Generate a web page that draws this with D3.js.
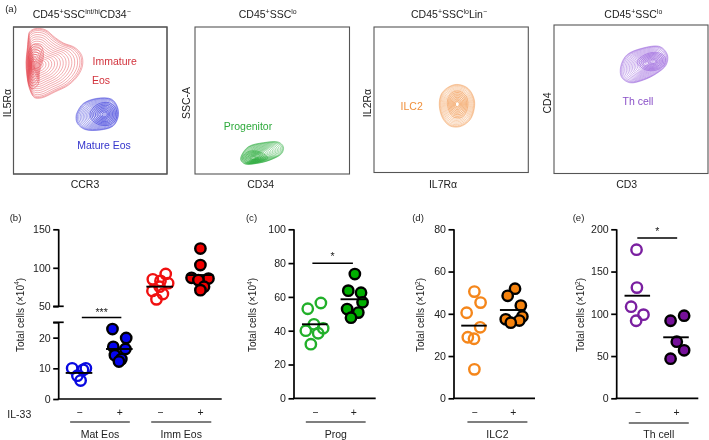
<!DOCTYPE html>
<html><head><meta charset="utf-8">
<script src="https://cdn.jsdelivr.net/npm/d3@7"></script>
<style>
html,body{margin:0;padding:0;background:#fff}
svg{display:block;filter:blur(.3px)}
text{font-family:"Liberation Sans",Arial,sans-serif;fill:#222}
</style></head><body><svg id="c" width="709" height="440"></svg>
<script>
// ---------- flow plots: contour outlines (percent of the plot) ----------
const immatureOutline=[[10.4,96.6],[14.1,98.9],[20.6,98.2],[27.1,92.8],[32.5,89.1],[40,86],[44.4,80.8],[45,74],[42.2,67.2],[35.7,60.4],[27.1,55.9],[18.4,51.8],[13.6,52],[10.4,58.1],[8.7,67.2],[8.2,76.2],[9.1,86.4],[9.7,93.2]];
const immatureCore=[14,74];
const immatureRidge=[[9.3,72],[10,84],[13,88],[18,87],[19.5,80],[17,70],[16,61],[12,58],[9.8,62]];
const immatureRidgeCore=[12.5,74];
const matureOutline=[[41.6,42.3],[45.5,48],[54.1,51.4],[63.9,50.9],[67.7,45.7],[68.2,38.9],[64.9,32.6],[56.3,29.9],[46.5,30.3],[41.6,34.4],[40.7,38.9]];
const matureCore=[57,40.5];
const matureRidge=[[50,42],[55,47.5],[62,48.5],[66.5,45],[67,38],[63,33.5],[56,33.5],[51,37]];
const matureRidgeCore=[59.5,40.5];
const progenitorOutline=[[30.2,12.9],[34.6,18.6],[44.3,21.3],[54,21.7],[57.2,18.6],[56.2,14],[48.6,9.5],[40,7.2],[32.4,6.8],[29.6,9.5]];
const progenitorCore=[40,12];
const progenitorRidge=[[30.5,11],[35,15.5],[42,15],[47,11],[41,8],[33,7.5]];
const progenitorRidgeCore=[38,10.8];
const ilc2Outline=[[42.3,46.3],[43.8,54.3],[49.2,59.3],[54.6,60.5],[61,57.8],[64.8,50.9],[65,44],[62.2,36.1],[55.7,31.5],[49.2,32],[44.5,37.2]];
const ilc2Core=[54,47];
const ilc2Ridge=[[47.5,48],[50,54.5],[55,56],[60,52],[60.5,44],[57,38],[51,38.5]];
const ilc2RidgeCore=[54,47];
const thOutline=[[43.3,72],[47.2,79.8],[57,84.3],[69,85.4],[73.7,79.8],[72.8,73],[66.7,67.4],[58,62.9],[49.3,61.1],[43.9,64.7]];
const thCore=[60,74];
const thRidge=[[54,75],[59,80],[67,81.5],[72,78.5],[71.5,73],[66,69.5],[59,70]];
const thRidgeCore=[64.5,75.3];
const ringLevels=[1,.975,.94,.89,.83,.77,.71,.65,.59,.53,.47,.41,.35,.29,.23,.17,.11];
const ridgeLevels=[1,.88,.76,.64,.52,.4,.3,.2];

// ---------- dot plots ----------
const matMinus=[10,10,9.5,7.6,6],            matMinusJitter=[-.17,.17,.1,-.04,.04];
const matPlus=[22.8,19.9,17,16.3,14.3,13,12.2], matPlusJitter=[-.17,.17,-.15,.15,-.11,.05,-.01];
const immMinus=[92,85,83,80,75.5,70,66,59],  immMinusJitter=[.15,-.17,.02,.21,0,-.18,.08,-.08];
const immPlus=[125,103.6,87,86,84,75.5,71],  immPlusJitter=[.01,.01,-.21,.21,-.04,.1,.01];
const progMinus=[56.4,53,43.8,41.4,40,38.5,32], progMinusJitter=[.16,-.18,-.02,.22,-.23,.09,-.1];
const progPlus=[73.5,63.7,62.5,56.8,52.8,50.7,47.7], progPlusJitter=[.04,-.13,.2,.24,-.16,.13,-.06];
const ilcMinus=[50.5,45.3,40.5,33.6,28.9,28.2,13.7], ilcMinusJitter=[.01,.17,-.19,.16,-.16,0,.01];
const ilcPlus=[51.9,48.5,43.9,38.7,37.4,36.8,35.8], ilcPlusJitter=[.06,-.13,.21,.25,-.18,.17,-.05];
const thMinus=[175.9,131,108.4,99,91.8],     thMinusJitter=[-.02,-.01,-.16,.16,-.03];
const thPlus=[97.8,91.8,67,56.8,46.9],       thPlusJitter=[.21,-.14,.02,.21,-.14];
const means={mat:[8.5,16.3],imm:[75.5,90.6],prog:[43.8,58.6],ilc:[34.4,41.8],th:[121.4,72.2]};
const il33Labels=["−","+","−","+"];

const svg=d3.select("#c");
const fs=10.5;
function rich(sel,parts){
  let shifted=false;
  parts.forEach(p=>{
    const sup=Array.isArray(p);
    const t=sel.append("tspan").text(sup?p[0]:p);
    if(sup){t.attr("dy",shifted?0:-3.4).attr("font-size",sel.attr("font-size")*.66);shifted=true;}
    else if(shifted){t.attr("dy",3.4);shifted=false;}
  });
  return sel;
}
function label(x,y,parts,o={}){
  const t=svg.append("text").attr("x",o.rot?0:x).attr("y",o.rot?0:y)
    .attr("text-anchor",o.anchor||"middle").attr("dominant-baseline","central")
    .attr("font-size",o.size||fs);
  if(o.rot)t.attr("transform",`translate(${x},${y}) rotate(-90)`);
  if(o.color)t.style("fill",o.color);
  return rich(t,Array.isArray(parts)?parts:[parts]);
}

// ---------- (a) flow panels ----------
const ringLine=d3.line().curve(d3.curveCatmullRomClosed.alpha(.5));
function rings(x,y,outline,core,levels,color,w){
  svg.append("g").selectAll("path").data(levels).join("path")
    .attr("d",t=>ringLine(outline.map(p=>[x(core[0]+(p[0]-core[0])*t),y(core[1]+(p[1]-core[1])*t)])))
    .attr("fill","none").attr("stroke",color).attr("stroke-width",w).attr("stroke-opacity",.85);
}
function flow(box,outline,core,ridge,ridgeCore,color){
  const x=d3.scaleLinear([0,100],[box[0],box[1]]),y=d3.scaleLinear([0,100],[box[3],box[2]]);
  svg.append("rect").attr("x",box[0]).attr("y",box[2]).attr("width",box[1]-box[0]).attr("height",box[3]-box[2])
    .attr("fill","none").attr("stroke","#555").attr("stroke-width",1.1);
  rings(x,y,outline,core,ringLevels,color,.5);
  rings(x,y,ridge,ridgeCore,ridgeLevels,color,.6);
}
flow([13.5,167,27,174],immatureOutline,immatureCore,immatureRidge,immatureRidgeCore,"#e23b45");
flow([13.5,167,27,174],matureOutline,matureCore,matureRidge,matureRidgeCore,"#2c2ed8");
flow([195,349.5,27,174],progenitorOutline,progenitorCore,progenitorRidge,progenitorRidgeCore,"#22a834");
flow([374,528.3,27,172.5],ilc2Outline,ilc2Core,ilc2Ridge,ilc2RidgeCore,"#f2954a");
flow([554,708,25,173.5],thOutline,thCore,thRidge,thRidgeCore,"#8c4fd8");

label(11,7.5,"(a)",{size:9.6});
label(81.7,14,["CD45",["+"],"SSC",["int/hi"],"CD34",["−"]]);
label(267.7,14,["CD45",["+"],"SSC",["lo"]]);
label(449,14,["CD45",["+"],"SSC",["lo"],"Lin",["−"]]);
label(633.3,14,["CD45",["+"],"SSC",["lo"]]);
label(85,184,"CCR3");label(260.7,184,"CD34");label(443,184,"IL7Rα");label(626.7,184,"CD3");
label(6.5,103,"IL5Rα",{rot:1});label(186,103,"SSC-A",{rot:1});label(366.7,103,"IL2Rα",{rot:1});label(546.7,103,"CD4",{rot:1});
label(114.7,61,"Immature",{color:"#d2323c"});
label(101,80,"Eos",{color:"#d2323c"});
label(104,145,"Mature Eos",{color:"#3434cc"});
label(248,126,"Progenitor",{color:"#2eaa3c"});
label(411.7,106,"ILC2",{color:"#f0903c"});
label(638,101,"Th cell",{color:"#8a50c8"});

// ---------- dot-plot helpers ----------
function yAxis(scale,ticks,x,labeled){
  const g=svg.append("g").attr("transform",`translate(${x},0)`)
    .call(d3.axisLeft(scale).tickValues(ticks).tickSize(5.5).tickPadding(2.5)
      .tickFormat(v=>labeled.includes(v)?v:""));
  g.selectAll("path,line").attr("stroke","#000").attr("stroke-width",1.7);
  g.select("path").attr("d",`M0,${scale.range()[0]}V${scale.range()[1]}`);
  g.selectAll("text").attr("font-size",10.6).style("font-family",'"Liberation Sans",Arial,sans-serif');
}
function breakMark(x,y){
  svg.append("line").attr("x1",x-5.5).attr("x2",x+5).attr("y1",y).attr("y2",y).attr("stroke","#000").attr("stroke-width",1.7);
}
function dots(x,y,cat,vals,jit,color,filled,fill){
  svg.append("g").selectAll("circle").data(vals).join("circle")
    .attr("cx",(d,i)=>x(cat+jit[i])).attr("cy",d=>y(d)).attr("r",5.2)
    .attr("fill",filled?fill:"none").attr("stroke",filled?"#000":color).attr("stroke-width",2.4);
}
function meanLine(x,y,cat,v){
  svg.append("line").attr("x1",x(cat-.33)).attr("x2",x(cat+.33)).attr("y1",y(v)).attr("y2",y(v))
    .attr("stroke","#000").attr("stroke-width",1.9);
}
function sigBar(x,y,a,b,v,stars,dy){
  svg.append("line").attr("x1",x(a)).attr("x2",x(b)).attr("y1",y(v)).attr("y2",y(v)).attr("stroke","#000").attr("stroke-width",1.5);
  label((x(a)+x(b))/2,y(v)+dy,stars,{size:10.5});
}
function cats(x,labels,baseY){
  const g=svg.append("g").attr("transform",`translate(0,${baseY})`)
    .call(d3.axisBottom(x).tickValues(labels.map((d,i)=>i)).tickSize(0).tickPadding(10).tickFormat((d,i)=>labels[i]));
  g.select("path").remove();
  g.selectAll("text").attr("font-size",10.4).style("font-family",'"Liberation Sans",Arial,sans-serif');
}
function groupBar(x,a,b,name,yBar,yText){
  svg.append("line").attr("x1",x(a)).attr("x2",x(b)).attr("y1",yBar).attr("y2",yBar).attr("stroke","#000").attr("stroke-width",1.2);
  label((x(a)+x(b))/2,yText,name);
}
function baseline(x0,x1,y){svg.append("line").attr("x1",x0).attr("x2",x1).attr("y1",y).attr("y2",y).attr("stroke","#000").attr("stroke-width",1.7);}
function yTitle(x,y,exp){label(x,y,["Total cells (×10",[exp],")"],{rot:1,size:10});}

// ---------- (b) ----------
{
  const yLow=d3.scaleLinear([0,25],[399,322.3]),yHigh=d3.scaleLinear([50,150],[306.3,229.3]);
  const x=d3.scaleLinear([0,3],[79,200]);
  yAxis(yLow,[0,10,20,25],58.7,[0,10,20]);
  yAxis(yHigh,[50,100,150],58.7,[50,100,150]);
  breakMark(58.7,yLow(25));breakMark(58.7,yHigh(50));
  baseline(57.8,221.7,399);
  dots(x,yLow,0,matMinus,matMinusJitter,"#0808e0",false);
  dots(x,yLow,1,matPlus,matPlusJitter,"#0808e0",true,"#0505ee");
  dots(x,yHigh,2,immMinus,immMinusJitter,"#f01010",false);
  dots(x,yHigh,3,immPlus,immPlusJitter,"#f01010",true,"#f00000");
  meanLine(x,yLow,0,means.mat[0]);meanLine(x,yLow,1,means.mat[1]);
  meanLine(x,yHigh,2,means.imm[0]);meanLine(x,yHigh,3,means.imm[1]);
  sigBar(x,yLow,.07,1.05,26.6,"***",-5.5);
  cats(x,il33Labels,399);
  groupBar(x,-.22,1.26,"Mat Eos",422,434);
  groupBar(x,1.79,3.28,"Imm Eos",422,434);
  label(7.3,413.5,"IL-33",{anchor:"start"});
  label(15.5,216.5,"(b)",{size:9.6});
  yTitle(19.5,315,"4");
}
// ---------- (c) ----------
{
  const y=d3.scaleLinear([0,100],[398.3,229.3]),x=d3.scaleLinear([0,1],[314.7,353.3]);
  yAxis(y,[0,20,40,60,80,100],294,[0,20,40,60,80,100]);
  baseline(293,375.7,398.3);
  dots(x,y,0,progMinus,progMinusJitter,"#22b02a",false);
  dots(x,y,1,progPlus,progPlusJitter,"#000",true,"#00b000");
  meanLine(x,y,0,means.prog[0]);meanLine(x,y,1,means.prog[1]);
  sigBar(x,y,-.06,.99,79.9,"*",-7);
  cats(x,il33Labels.slice(0,2),398.3);
  groupBar(x,-.23,1.32,"Prog",422,434);
  label(251.5,216.5,"(c)",{size:9.6});
  yTitle(252,315,"4");
}
// ---------- (d) ----------
{
  const y=d3.scaleLinear([0,80],[398.3,229.3]),x=d3.scaleLinear([0,1],[474,512.7]);
  yAxis(y,[0,20,40,60,80],454,[0,20,40,60,80]);
  baseline(453,535,398.3);
  dots(x,y,0,ilcMinus,ilcMinusJitter,"#f5861a",false);
  dots(x,y,1,ilcPlus,ilcPlusJitter,"#000",true,"#f5820d");
  meanLine(x,y,0,means.ilc[0]);meanLine(x,y,1,means.ilc[1]);
  cats(x,il33Labels.slice(0,2),398.3);
  groupBar(x,-.17,1.38,"ILC2",422,434);
  label(418,216.5,"(d)",{size:9.6});
  yTitle(420,315,"2");
}
// ---------- (e) ----------
{
  const y=d3.scaleLinear([0,200],[398.3,229.3]),x=d3.scaleLinear([0,1],[637.3,676]);
  yAxis(y,[0,50,100,150,200],616.7,[0,50,100,150,200]);
  baseline(615.7,698.3,398.3);
  dots(x,y,0,thMinus,thMinusJitter,"#7a1fa0",false);
  dots(x,y,1,thPlus,thPlusJitter,"#000",true,"#76109a");
  meanLine(x,y,0,means.th[0]);meanLine(x,y,1,means.th[1]);
  sigBar(x,y,0,1.03,189.7,"*",-7.5);
  cats(x,il33Labels.slice(0,2),398.3);
  groupBar(x,-.22,1.33,"Th cell",423,434);
  label(578.5,216.5,"(e)",{size:9.6});
  yTitle(580,315,"2");
}
</script></body></html>
